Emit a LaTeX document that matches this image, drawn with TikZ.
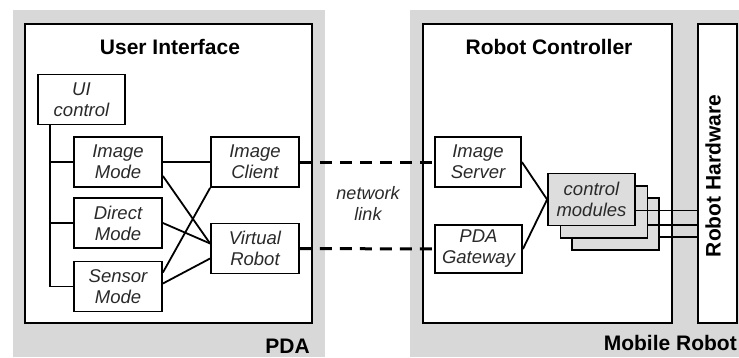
\documentclass[tikz,border=0pt]{standalone}
\usepackage{fontspec}
\setmainfont{Liberation Sans}
\usepackage{xcolor}
\definecolor{AreaGray}{HTML}{D8D8D8}
\definecolor{ModuleGray}{HTML}{DDDDDD}
\definecolor{LabelGray}{HTML}{2A2A2A}
\tikzset{
    % Area styles
    device/.style={
        rectangle,
        draw=none,
        fill=AreaGray,
        inner sep=0pt
    },
    panel/.style={
        rectangle,
        draw=black,
        fill=white,
        line width=1.8pt,
        inner sep=0pt
    },
    title/.style={
        font=\fontsize{21}{24}\selectfont\bfseries,
        inner sep=0pt
    },
    % Box styles
    block/.style={
        rectangle,
        draw=black,
        fill=white,
        line width=1.8pt,
        minimum width=88pt,
        minimum height=50pt,
        inner sep=0pt,
        align=center,
        text=LabelGray,
        font=\fontsize{18.5}{21}\selectfont\itshape
    },
    module/.style={
        block,
        fill=ModuleGray,
        minimum width=87pt,
        minimum height=52pt
    },
    note/.style={
        align=center,
        text=LabelGray,
        font=\fontsize{18}{21}\selectfont\itshape
    },
    % Line styles
    link/.style={
        line width=1.8pt,
        draw=black
    },
    netlink/.style={
        line width=3pt,
        draw=black,
        dash pattern=on 12pt off 8pt
    }
}

\begin{document}
\begin{tikzpicture}[x=1pt, y=-1pt]
    \useasboundingbox (0,0) rectangle (739,357);

    % device areas
    \node[device, minimum width=312pt, minimum height=347pt] (pda) at (169,183.5) {};
    \node[device, minimum width=329pt, minimum height=347pt] (mobile) at (574.5,183.5) {};
    \node[title, anchor=east] (pdalabel) at (310,346) {PDA};
    \node[title, anchor=east] (mobilelabel) at (737,343) {Mobile Robot};

    \node[panel, minimum width=287pt, minimum height=299pt] (ui) at (168.5,173.5) {};
    \node[panel, minimum width=249pt, minimum height=299pt] (ctrl) at (547.5,173.5) {};
    \node[panel, minimum width=39pt, minimum height=299pt] (hw) at (717.5,173.5) {};
    \node[title] (uititle) at (170,47) {User Interface};
    \node[title] (ctrltitle) at (549,47) {Robot Controller};
    \node[title, rotate=90] (hwtitle) at (713,176) {Robot Hardware};

    % user interface
    \node[block, minimum width=87pt] (uictrl) at (81.5,99.5) {UI\\control};
    \node[block] (imgmode) at (118,162) {Image\\Mode};
    \node[block] (dirmode) at (118,223) {Direct\\Mode};
    \node[block] (senmode) at (118,286.5) {Sensor\\Mode};
    \node[block] (imgclient) at (255,162) {Image\\Client};
    \node[block] (vrobot) at (255,248.5) {Virtual\\Robot};

    \coordinate (bus) at (50,125);
    \draw[link] (bus) |- (senmode.west);
    \draw[link] (bus |- imgmode.west) -- (imgmode.west);
    \draw[link] (bus |- dirmode.west) -- (dirmode.west);

    \draw[link] (imgmode.east) -- (imgclient.west);
    \draw[link] ([yshift=-14pt]imgmode.east) -- ([yshift=5pt]vrobot.west);
    \draw[link] (dirmode.east) -- ([yshift=5pt]vrobot.west);
    \draw[link] ([yshift=14pt]senmode.east) -- (imgclient.south west);
    \draw[link] ([yshift=3pt]senmode.east) -- ([yshift=-10pt]vrobot.west);

    % robot controller
    \node[block, minimum width=86pt] (imgserver) at (478,162) {Image\\Server};
    \node[block, minimum width=87pt, minimum height=48pt] (pdagw) at (478.5,249) {PDA\\Gateway};
    \node[module] (mod3) at (615.5,224) {};
    \node[module] (mod2) at (604,212) {};
    \node[module] (mod1) at (591.5,199.5) {control\\modules};

    \draw[link] (imgserver.east) -- (mod1.west);
    \draw[link] (pdagw.east) -- (mod1.west);
    \draw[link] ([yshift=-11pt]mod1.east) coordinate (m1) -- (m1 -| hw.west);
    \draw[link] ([yshift=-13pt]mod2.east) coordinate (m2) -- (m2 -| hw.west);
    \draw[link] ([yshift=-13pt]mod3.east) coordinate (m3) -- (m3 -| hw.west);

    % network link
    \draw[netlink] (imgclient.east) -- (imgserver.west);
    \draw[netlink] (vrobot.east) -- (pdagw.west);
    \node[note] (net) at (368,203) {network\\link};
\end{tikzpicture}
\end{document}
